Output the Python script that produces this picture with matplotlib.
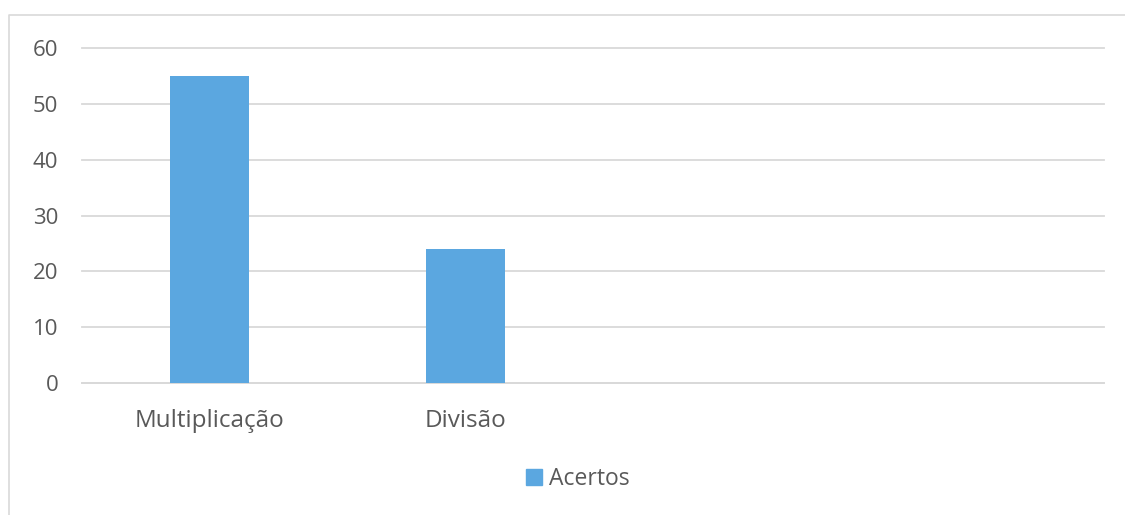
import matplotlib.pyplot as plt
from matplotlib.lines import Line2D
from matplotlib.patches import Patch

categories = ["Multiplicação", "Divisão", "", " "]
acertos = [55, 24, 0, 0]
series_name = "Acertos"
yticks = [0, 10, 20, 30, 40, 50, 60]

plt.rcParams['font.family'] = ['Open Sans', 'DejaVu Sans']

fig = plt.figure(figsize=(11.25, 5.15), dpi=100)
ax = fig.add_axes([82 / 1125, 1 - 383 / 515, (1104 - 82) / 1125, (383 - 48) / 515])

bar_color = "#5ba7e0"
ax.bar(range(len(categories)), acertos, width=0.31, color=bar_color, zorder=3)
ax.set_xlim(-0.5, len(categories) - 0.5)
ax.set_ylim(0, 60)
ax.set_yticks(yticks)
ax.set_xticks(range(2))
ax.set_xticklabels(categories[:2])

ax.yaxis.grid(True, color="#d9d9d9", linewidth=1.3, zorder=0)
for gl in ax.get_ygridlines():
    gl.set_clip_on(False)
for s in ["top", "right", "left"]:
    ax.spines[s].set_visible(False)
ax.spines["bottom"].set_color("#d9d9d9")
ax.spines["bottom"].set_linewidth(1.3)
ax.tick_params(axis="both", length=0, labelsize=16, labelcolor="#595959")
ax.tick_params(axis="x", pad=19, labelsize=17.5)
ax.tick_params(axis="y", pad=17)

# outer chart border (left and top edges visible)
fig.add_artist(Line2D([9 / 1125, 9 / 1125, 1.0], [0, 1 - 15 / 515, 1 - 15 / 515],
                      transform=fig.transFigure, color="#d9d9d9", linewidth=1.2))

fig.legend(handles=[Patch(color=bar_color, label=series_name)],
           loc="center", bbox_to_anchor=(578 / 1125, 1 - 479 / 515),
           frameon=False, fontsize=16.5, labelcolor="#595959",
           handlelength=0.7, handleheight=0.7, handletextpad=0.3)

fig.savefig("out.png", dpi=100)
